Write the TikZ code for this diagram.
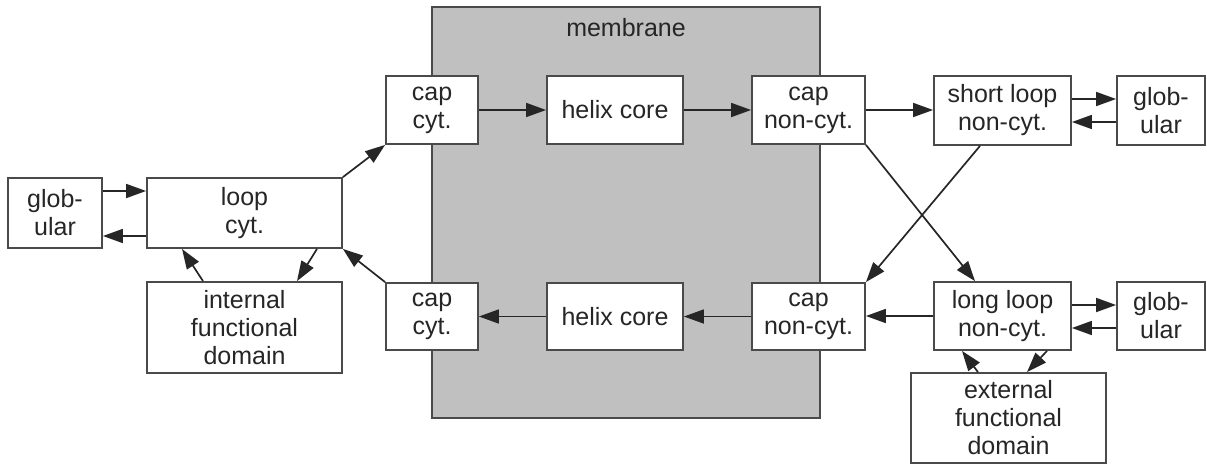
\documentclass[tikz,border=0pt]{standalone}
\usepackage{fontspec}
\setmainfont{Liberation Sans}
\usetikzlibrary{arrows.meta}
\definecolor{edge}{HTML}{4A4A4A}
\definecolor{ink}{HTML}{262626}
\definecolor{memfill}{HTML}{C0C0C0}
\tikzset{
  box/.style={draw=edge, line width=1.8pt, fill=white, text=ink, align=center,
    inner sep=0pt, font=\fontsize{25}{28}\selectfont},
  arr/.style={draw=ink, line width=1.7pt, -{Triangle[length=20pt,width=14pt]}},
}
\begin{document}
\begin{tikzpicture}[x=1pt,y=-1pt]
\useasboundingbox (0,0) rectangle (1207,466);
% membrane region
\node[draw=edge, line width=1.8pt, fill=memfill, minimum width=388pt, minimum height=411pt, inner sep=0pt] (mem) at (626,212.5) {};
\node[text=ink, font=\fontsize{25}{28}\selectfont] (memlabel) at (626,28) {membrane};
% left side
\node[box, minimum width=94pt, minimum height=70pt] (gl) at (55,213) {glob-\\ular};
\node[box, minimum width=195pt, minimum height=70pt] (loop) at (244.5,213) {loop\\cyt.};
\node[box, minimum width=195pt, minimum height=91pt] (ifd) at (244.5,327.5) {internal\\functional\\domain};
% upper row
\node[box, minimum width=92pt, minimum height=68pt] (cc1) at (432,110) {cap\\cyt.};
\node[box, minimum width=136pt, minimum height=68pt] (hc1) at (615,110) {helix core};
\node[box, minimum width=113pt, minimum height=68pt] (cn1) at (808.5,110) {cap\\non-cyt.};
\node[box, minimum width=137pt, minimum height=69pt] (sl) at (1002.5,110.5) {short loop\\non-cyt.};
\node[box, minimum width=88pt, minimum height=69pt] (gr1) at (1161,110.5) {glob-\\ular};
% lower row
\node[box, minimum width=92pt, minimum height=67pt] (cc2) at (432,316.5) {cap\\cyt.};
\node[box, minimum width=136pt, minimum height=67pt] (hc2) at (615,316.5) {helix core};
\node[box, minimum width=113pt, minimum height=67pt] (cn2) at (808.5,316.5) {cap\\non-cyt.};
\node[box, minimum width=137pt, minimum height=68pt] (ll) at (1002.5,316) {long loop\\non-cyt.};
\node[box, minimum width=88pt, minimum height=68pt] (gr2) at (1161,316) {glob-\\ular};
\node[box, minimum width=195pt, minimum height=90pt] (efd) at (1008.5,418) {external\\functional\\domain};
% connectors, left
\draw[arr] ([yshift=22pt]gl.east) -- ([yshift=22pt]loop.west);
\draw[arr] ([yshift=-23pt]loop.west) -- ([yshift=-23pt]gl.east);
\draw[arr] (loop.north east) -- (cc1.south west);
\draw[arr] (cc2.north west) -- (loop.south east);
\draw[arr] ([xshift=-41.5pt]ifd.north) -- ([xshift=-62.5pt]loop.south);
\draw[arr] ([xshift=72.5pt]loop.south) -- ([xshift=52.5pt]ifd.north);
% connectors, upper row
\draw[arr] (cc1.east) -- (hc1.west);
\draw[arr] (hc1.east) -- (cn1.west);
\draw[arr] (cn1.east) -- (cn1.east -| sl.west);
\draw[arr] ([yshift=11.5pt]sl.east) -- ([yshift=11.5pt]gr1.west);
\draw[arr] ([yshift=-11.5pt]gr1.west) -- ([yshift=-11.5pt]sl.east);
% crossing connectors
\draw[arr] (cn1.south east) -- ([xshift=-27.5pt]ll.north);
\draw[arr] ([xshift=-22.5pt]sl.south) -- (cn2.north east);
% connectors, lower row
\draw[arr] (ll.west) -- (ll.west -| cn2.east);
\draw[arr] (cn2.west) -- (hc2.east);
\draw[arr] (hc2.west) -- (cc2.east);
\draw[arr] ([yshift=11pt]ll.east) -- ([yshift=11pt]gr2.west);
\draw[arr] ([yshift=-12pt]gr2.west) -- ([yshift=-12pt]ll.east);
\draw[arr] ([xshift=-30.5pt]efd.north) -- ([xshift=-40.5pt]ll.south);
\draw[arr] ([xshift=44.5pt]ll.south) -- ([xshift=18.5pt]efd.north);
\end{tikzpicture}
\end{document}
